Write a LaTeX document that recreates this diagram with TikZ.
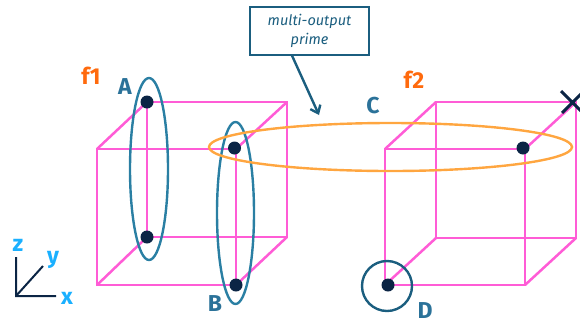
\documentclass[tikz,border=0pt]{standalone}
\usepackage{fontspec}
\usetikzlibrary{arrows.meta}
\setmainfont{Fira Sans}
\definecolor{cubepink}{HTML}{FF5CD6}
\definecolor{navy}{HTML}{0B2545}
\definecolor{loopblue}{HTML}{2A7FA3}
\definecolor{darkteal}{HTML}{1B5E7F}
\definecolor{loopor}{HTML}{FFA640}
\definecolor{fnor}{HTML}{FF6A0D}
\definecolor{axcy}{HTML}{1AB0FF}
\definecolor{lblue}{HTML}{2B7299}
\tikzset{
  x=1pt,y=-1pt,
  edge/.style={draw=cubepink,line width=2.5pt,line join=miter},
  dotm/.style={circle,fill=navy,inner sep=0pt,minimum size=13pt},
  loopc/.style={draw=loopblue,line width=2.4pt},
  loopo/.style={draw=loopor,line width=2.4pt},
  fname/.style={inner sep=0pt,text=fnor,font=\fontsize{23}{23}\selectfont\bfseries},
  lbl/.style={inner sep=0pt,text=lblue,font=\fontsize{23}{23}\selectfont\bfseries},
  axl/.style={inner sep=0pt,text=axcy,font=\fontsize{23}{23}\selectfont\bfseries},
  axln/.style={draw=navy,line width=2pt},
  callout/.style={draw=darkteal,line width=1.2pt,fill=white,text=darkteal,align=center,minimum width=119pt,minimum height=48pt,inner sep=0pt,font=\fontsize{14.5}{19}\selectfont\itshape},
}
\begin{document}
\begin{tikzpicture}
\useasboundingbox (0,0) rectangle (580,322);
% cube 1
\coordinate (a1) at (97,149); \coordinate (a2) at (236,149);
\coordinate (a3) at (236,285); \coordinate (a4) at (97,285);
\coordinate (a5) at (147,102); \coordinate (a6) at (287,102);
\coordinate (a7) at (287,237); \coordinate (a8) at (147,237);
\draw[edge] (a1)--(a2)--(a3)--(a4)--cycle;
\draw[edge] (a5)--(a6)--(a7)--(a8)--cycle;
\draw[edge] (a1)--(a5) (a2)--(a6) (a3)--(a7) (a4)--(a8);
% cube 2
\coordinate (b1) at (385,149); \coordinate (b2) at (525,149);
\coordinate (b3) at (525,285); \coordinate (b4) at (385,285);
\coordinate (b5) at (436,102); \coordinate (b6) at (576,102);
\coordinate (b7) at (576,238); \coordinate (b8) at (436,238);
\draw[edge] (b1)--(b2)--(b3)--(b4)--cycle;
\draw[edge] (b5)--(b6)--(b7)--(b8)--cycle;
\draw[edge] (b1)--(b5) (b2)--(b6) (b3)--(b7) (b4)--(b8);
% loops
\draw[loopc] (149,169) ellipse [x radius=19,y radius=91];
\draw[loopc] (235.5,213) ellipse [x radius=18.5,y radius=91];
\draw[loopo] (390.5,147) ellipse [x radius=181.5,y radius=24];
\draw[draw=darkteal,line width=2.4pt] (387,286) circle [radius=25];
% dots
\node[dotm] (p1) at (147,102) {};
\node[dotm] (p2) at (147,237) {};
\node[dotm] (p3) at (234.5,148) {};
\node[dotm] (p4) at (236,285) {};
\node[dotm] (p5) at (523,148) {};
\node[dotm] (p6) at (388,285) {};
% X
\draw[navy,line width=3pt] (561,91)--(583,113) (562,113)--(583,92);
% labels
\node[fname] (f1) at (91,76) {f1};
\node[fname] (f2) at (414,80) {f2};
\node[lbl] (lA) at (125,87) {A};
\node[lbl] (lB) at (215,304) {B};
\node[lbl] (lC) at (373,106) {C};
\node[lbl] (lD) at (425,311) {D};
% axes
\coordinate (o) at (16,296);
\coordinate (zz) at (16,257); \coordinate (yy) at (43,266); \coordinate (xx) at (56,296);
\draw[axln] (zz)--(o)--(xx) (o)--(yy);
\node[axl] (lz) at (18,245) {z};
\node[axl] (ly) at (53,260) {y};
\node[axl] (lx) at (67,298) {x};
% callout
\node[callout] (box) at (309.5,31) {multi-output\\prime};
\coordinate (tip) at (319,115);
\draw[draw=darkteal,line width=2.4pt,-{Straight Barb[length=7pt,width=11pt]}] (box.south) ++(-17.5,0) -- (tip);
\end{tikzpicture}
\end{document}
